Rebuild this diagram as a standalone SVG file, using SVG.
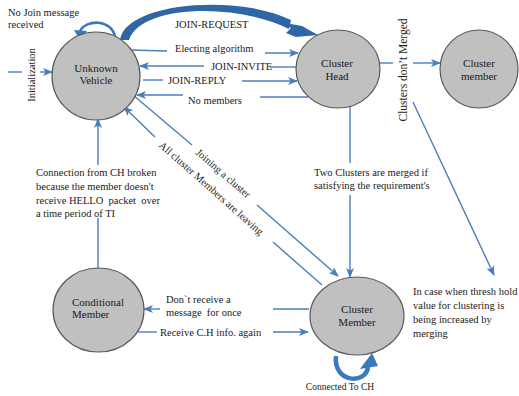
<svg xmlns="http://www.w3.org/2000/svg" width="519" height="396" viewBox="0 0 519 396" font-family="'Liberation Serif', 'DejaVu Serif', serif">
<style>
.node ellipse{fill:#c0c0c0;stroke:#595959;stroke-width:1.2}
text{font-family:'Liberation Serif','DejaVu Serif',serif;fill:#1a1a1a}
.nl{font-size:11px;text-anchor:middle}
.nls{font-size:11px}
.lb{font-size:10.5px}
.c line{stroke:#4a7ebb;stroke-width:1.4;fill:none}
.ar{marker-end:url(#ah)}
.thick{fill:#2e66a6}
.loop{fill:none;stroke:#3b78bd}
</style>
<defs>
<marker id="ah" markerUnits="userSpaceOnUse" markerWidth="10" markerHeight="8" refX="9" refY="4" orient="auto">
<path d="M0,0 L10,4 L0,8 L2.5,4 z" fill="#4a7ebb"/>
</marker>
</defs>
<rect width="519" height="396" fill="#ffffff"/>

<g id="connectors" class="c">
<line x1="8" y1="72" x2="22" y2="72"/>
<line class="ar" x1="40" y1="72" x2="52" y2="72"/>
<path class="loop" d="M115,37 C112,19 86,19 80,31" stroke-width="2.6"/>
<polygon points="74,30 87,31 79,39" fill="#3b78bd"/>
<path class="thick" d="M120,40 C125,3 235,-7 291,20 L289,29 C235,2 140,5 129,40 Z"/>
<polygon class="thick" points="280,22 302,26 318,35 296,37 286,33 291,28"/>
<line x1="130" y1="50" x2="167" y2="51"/>
<line class="ar" x1="265" y1="53" x2="298" y2="53"/>
<line x1="296" y1="67" x2="270" y2="67"/>
<line class="ar" x1="204" y1="66" x2="140" y2="66"/>
<line x1="143" y1="80" x2="163" y2="80"/>
<line class="ar" x1="242" y1="81" x2="297" y2="81"/>
<line x1="308" y1="97" x2="260" y2="97"/>
<line class="ar" x1="183" y1="95" x2="137" y2="95"/>
<line x1="380" y1="63" x2="393" y2="63"/>
<line class="ar" x1="413" y1="63" x2="440" y2="63"/>
<line class="ar" x1="413" y1="102" x2="494" y2="275"/>
<line x1="350" y1="106" x2="350" y2="163"/>
<line class="ar" x1="350" y1="195" x2="350" y2="277"/>
<line x1="133" y1="95" x2="192" y2="145"/>
<line class="ar" x1="257" y1="205" x2="338" y2="276"/>
<line x1="322" y1="285" x2="273" y2="242"/>
<line class="ar" x1="155" y1="137" x2="124" y2="107"/>
<line x1="98" y1="268" x2="98" y2="218"/>
<line class="ar" x1="98" y1="165" x2="98" y2="119"/>
<line x1="309" y1="309" x2="273" y2="309"/>
<line class="ar" x1="160" y1="309" x2="144" y2="309"/>
<line x1="138" y1="332" x2="157" y2="332"/>
<line class="ar" x1="273" y1="332" x2="308" y2="332"/>
<path class="loop" d="M336,356 C333,383 366,385 368,367" stroke-width="4.5"/>
<polygon points="360,369 378,366 372,353" fill="#3b78bd"/>
</g>

<g id="unknown-vehicle" class="node">
<ellipse cx="96" cy="76" rx="44" ry="44"/>
<text class="nl" x="96" y="72">Unknown</text>
<text class="nl" x="96" y="84">Vehicle</text>
</g>
<g id="cluster-head" class="node">
<ellipse cx="338" cy="69" rx="42" ry="39"/>
<text class="nl" x="337" y="67">Cluster</text>
<text class="nl" x="337" y="80">Head</text>
</g>
<g id="cluster-member-top" class="node">
<ellipse cx="479" cy="69" rx="39" ry="39"/>
<text class="nl" x="479" y="67">Cluster</text>
<text class="nl" x="479" y="80">member</text>
</g>
<g id="cluster-member" class="node">
<ellipse cx="357" cy="316" rx="47" ry="39"/>
<text class="nl" x="357" y="313">Cluster</text>
<text class="nl" x="357" y="326">Member</text>
</g>
<g id="conditional-member" class="node">
<ellipse cx="98.5" cy="310" rx="45.5" ry="42"/>
<text class="nls" x="72" y="306">Conditional</text>
<text class="nls" x="72" y="318">Member</text>
</g>

<g id="labels">
<text class="lb" x="8" y="16">No Join message</text>
<text class="lb" x="8" y="28">received</text>
<text class="lb" transform="translate(35,75) rotate(-90)" text-anchor="middle">Initialization</text>
<text class="lb" x="175" y="28">JOIN-REQUEST</text>
<text class="lb" x="175" y="52">Electing algorithm</text>
<text class="lb" x="211" y="70">JOIN-INVITE</text>
<text class="lb" x="168" y="84">JOIN-REPLY</text>
<text class="lb" x="188" y="104">No members</text>
<text transform="translate(407,70) rotate(-90)" text-anchor="middle" font-size="11.5">Clusters don’t Merged</text>
<text class="lb" x="314" y="176">Two Clusters are merged if</text>
<text class="lb" x="314" y="189">satisfying the requirement's</text>
<text class="lb" transform="translate(221,176) rotate(41)" text-anchor="middle">Joining a cluster</text>
<text class="lb" transform="translate(209,191) rotate(41.5)" text-anchor="middle">All cluster Members are leaving</text>
<text class="lb" x="36" y="176">Connection from CH broken</text>
<text class="lb" x="36" y="190">because the member doesn't</text>
<text class="lb" x="36" y="204" xml:space="preserve">receive HELLO  packet  over</text>
<text class="lb" x="36" y="217">a time period of TI</text>
<text class="lb" x="166" y="303">Don`t receive a</text>
<text class="lb" x="166" y="316" xml:space="preserve">message  for once</text>
<text class="lb" x="160" y="336">Receive C.H info. again</text>
<text class="lb" x="413" y="295">In case when thresh hold</text>
<text class="lb" x="413" y="309">value for clustering is</text>
<text class="lb" x="413" y="323">being increased by</text>
<text class="lb" x="413" y="337">merging</text>
<text x="340" y="390" text-anchor="middle" font-size="9.5">Connected To CH</text>
</g>
</svg>
